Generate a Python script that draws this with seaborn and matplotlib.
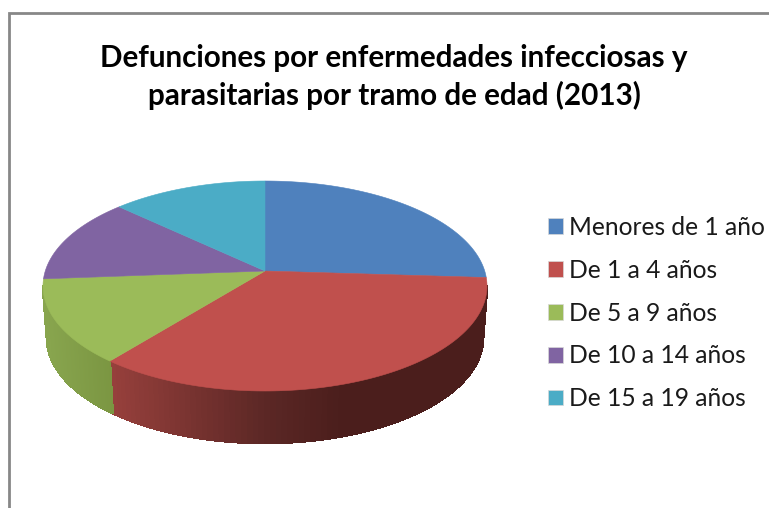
import numpy as np
import matplotlib
matplotlib.use("Agg")
import matplotlib.pyplot as plt
from matplotlib.collections import PolyCollection
from matplotlib.colors import to_rgb
from matplotlib.patches import Patch, Polygon
import seaborn as sns

categories = ["Menores de 1 año", "De 1 a 4 años", "De 5 a 9 años", "De 10 a 14 años", "De 15 a 19 años"]
values = [26.0, 34.8, 13.0, 13.2, 13.0]
colors = ["#4F81BD", "#C0504D", "#9BBB59", "#8064A2", "#4BACC6"]
title = "Defunciones por enfermedades infecciosas y\nparasitarias por tramo de edad (2013)"

sns.set_style("white")
plt.rcParams["font.family"] = ["Lato", "DejaVu Sans"]
palette = sns.color_palette(colors)

# pie geometry in image pixels
cx = 265
top_y, top_rx, ry = 286, 222, 105
bot_y, bot_rx = 338, 218
apex_y = 271
a = (top_y - apex_y) / ry


def to_ellipse(theta):
    # slice angle -> angle on the tilted ellipse (perspective)
    X, Y = np.sin(theta), np.cos(theta)
    return np.arctan2(X * np.sqrt(1 - a**2), Y + a) % (2 * np.pi)


def rim(phi, y0=top_y, rx=top_rx):
    return np.column_stack([cx + rx * np.sin(phi), y0 - ry * np.cos(phi)])


def wall_color(x, i):
    if i == 1:
        stops_x, stops = [109, 265, 340], ["#97403C", "#5B2725", "#4B1E1C"]
    else:
        stops_x, stops = [44, 109], ["#88A54E", "#7B9642"]
    rgb = np.array([to_rgb(c) for c in stops])
    return [np.interp(x, stops_x, rgb[:, k]) for k in range(3)]


fig = plt.figure(figsize=(7.69, 5.08), dpi=100)
ax = fig.add_axes([0, 0, 1, 1])
ax.set_xlim(0, 769)
ax.set_ylim(508, 0)
ax.axis("off")

ax.plot([9, 9, 769], [508, 13, 13], color="#878787", lw=2.0, solid_joinstyle="miter")

edges = np.deg2rad(np.cumsum([0] + values) * 3.6)
phis = to_ellipse(edges)
phis[-1] = 2 * np.pi

# side wall, front half only
for i in range(len(values)):
    lo, hi = max(phis[i], np.pi / 2), min(phis[i + 1], 3 * np.pi / 2)
    if hi <= lo:
        continue
    steps = np.linspace(lo, hi, 90)
    t, b = rim(steps), rim(steps, bot_y, bot_rx)
    # one outline underneath so the strip seams do not show
    ax.add_patch(Polygon(np.vstack([t, b[::-1]]), closed=True, facecolor=wall_color(t[len(t) // 2][0], i), lw=0))
    quads, shades = [], []
    for j in range(len(steps) - 1):
        quads.append([t[j], t[j + 1], b[j + 1], b[j]])
        shades.append(wall_color((t[j][0] + t[j + 1][0]) / 2, i))
    ax.add_collection(PolyCollection(quads, facecolors=shades, edgecolors=shades, linewidths=1.2, antialiaseds=False))

# top surface
for i in range(len(values)):
    arc = rim(np.linspace(phis[i], phis[i + 1], 120))
    pts = np.vstack([[cx, apex_y], arc])
    ax.add_patch(Polygon(pts, closed=True, facecolor=palette[i], edgecolor=palette[i], lw=0.4))

ax.text(394, 77, title, ha="center", va="center", fontsize=21.3, fontweight="bold",
        color="black", linespacing=1.37)

fs = 17.7
px = fs * 100 / 72
handles = [Patch(facecolor=c, edgecolor="#D8D8D8", lw=0.5, label=n) for c, n in zip(palette, categories)]
ax.legend(handles=handles, loc="upper left", bbox_to_anchor=(548, 216),
          bbox_transform=ax.transData, frameon=False, fontsize=fs, borderpad=0, borderaxespad=0,
          handlelength=15 / px, handleheight=15 / px, handletextpad=6 / px,
          labelspacing=(44.4 - px) / px, labelcolor="#1A1A1A")

fig.savefig("out.png", dpi=100)
